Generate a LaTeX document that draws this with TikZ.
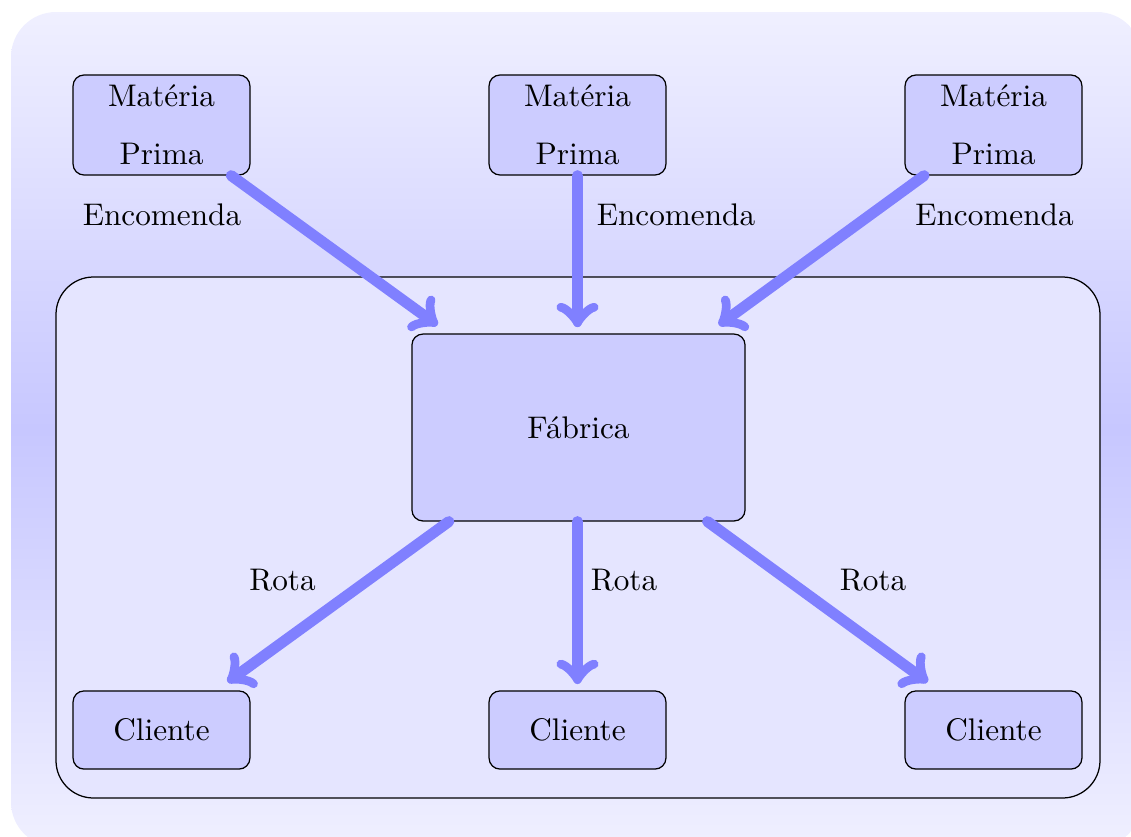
\documentclass[tikz,border=0pt]{standalone}
\usepackage{tikz}
\makeatletter
\pgfarrowsdeclare{oldto}{oldto}
{%
  \pgfutil@tempdima=-0.84pt%
  \advance\pgfutil@tempdima by-1.3\pgflinewidth%
  \pgfutil@tempdimb=0.21pt%
  \advance\pgfutil@tempdimb by.625\pgflinewidth%
  \pgfarrowsleftextend{+\pgfutil@tempdima}%
  \pgfarrowsrightextend{+\pgfutil@tempdimb}%
}
{%
  \pgfutil@tempdima=0.28pt%
  \advance\pgfutil@tempdima by.3\pgflinewidth%
  \pgfsetlinewidth{0.8\pgflinewidth}%
  \pgfsetdash{}{+0pt}%
  \pgfsetroundcap
  \pgfsetroundjoin
  \pgfpathmoveto{\pgfqpoint{-3\pgfutil@tempdima}{4\pgfutil@tempdima}}%
  \pgfpathcurveto
  {\pgfqpoint{-2.75\pgfutil@tempdima}{2.5\pgfutil@tempdima}}%
  {\pgfqpoint{0pt}{0.25\pgfutil@tempdima}}%
  {\pgfqpoint{0.75\pgfutil@tempdima}{0pt}}%
  \pgfpathcurveto
  {\pgfqpoint{0pt}{-0.25\pgfutil@tempdima}}%
  {\pgfqpoint{-2.75\pgfutil@tempdima}{-2.5\pgfutil@tempdima}}%
  {\pgfqpoint{-3\pgfutil@tempdima}{-4\pgfutil@tempdima}}%
  \pgfusepathqstroke
}
\makeatother
\begin{document}
\begin{tikzpicture}[x=0.32pt,y=-0.32pt,
  box/.style={draw=black, fill=blue!20, rounded corners=3.5pt, inner sep=0pt, align=center},
  mpbox/.style={box, minimum width=56.6pt, minimum height=32pt},
  clbox/.style={box, minimum width=56.6pt, minimum height=25pt},
  fabbox/.style={box, minimum width=106.6pt, minimum height=59.8pt},
  flow/.style={draw=blue!50, line width=3.5pt, line cap=round, >=oldto, ->, shorten >=2pt},
  diag/.style={flow, shorten >=4.5pt},
  lbl/.style={inner sep=0pt}]
\useasboundingbox (0,0) rectangle (1131,836);
\clip (0,0) rectangle (1131,836);
\shade[top color=blue!6, bottom color=blue!6, middle color=blue!22, rounded corners=14.4pt]
  (11,12) rectangle (1142,847);
\draw[fill=blue!10, rounded corners=12pt] (56,277) rectangle (1100,798);
\node[mpbox] (mp1) at (161.5,125) {Matéria\\[6.4pt]Prima};
\node[mpbox] (mp2) at (577.5,125) {Matéria\\[6.4pt]Prima};
\node[mpbox] (mp3) at (993.5,125) {Matéria\\[6.4pt]Prima};
\node[fabbox] (fab) at (578.5,427.5) {Fábrica};
\node[clbox] (cl1) at (161.5,730) {Cliente};
\node[clbox] (cl2) at (577.5,730) {Cliente};
\node[clbox] (cl3) at (993.5,730) {Cliente};
\draw[diag] (mp1) -- (fab);
\draw[flow] (mp2) -- (mp2 |- fab.north);
\draw[diag] (mp3) -- (fab);
\draw[diag] (fab) -- (cl1);
\draw[flow] (fab.south -| cl2) -- (cl2);
\draw[diag] (fab) -- (cl3);
\node[lbl] (e1) at (162,215) {Encomenda};
\node[lbl] (e2) at (676,215) {Encomenda};
\node[lbl] (e3) at (994.5,215) {Encomenda};
\node[lbl] (r1) at (282.5,580) {Rota};
\node[lbl] (r2) at (624,580) {Rota};
\node[lbl] (r3) at (873,580) {Rota};
\end{tikzpicture}
\end{document}
